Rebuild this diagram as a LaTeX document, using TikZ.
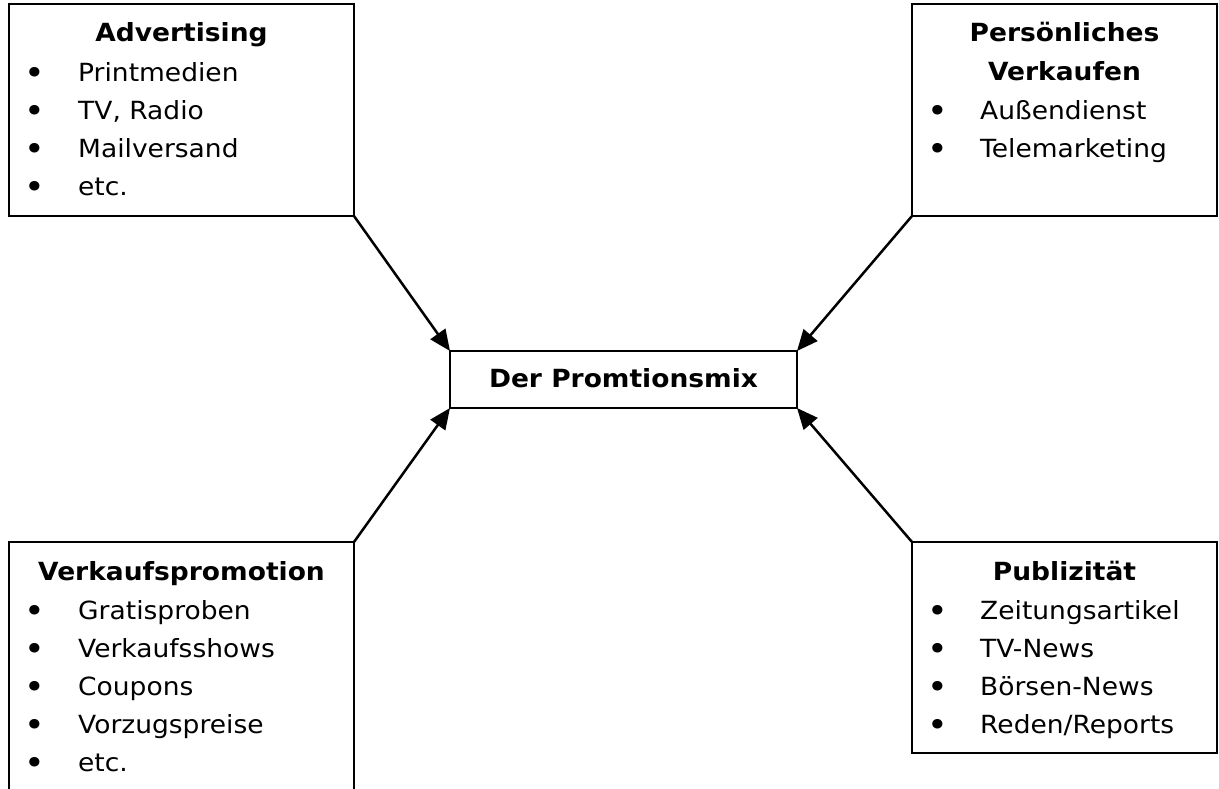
\documentclass[tikz,border=0pt]{standalone}
\usepackage{fontspec}
\setmainfont{DejaVu Sans}[FakeStretch=1.06]
\usetikzlibrary{arrows.meta}
\begin{document}
\begin{tikzpicture}[x=1pt,y=-1pt,
  frame/.style={draw, line width=2.5pt, outer sep=0pt, inner sep=0pt, anchor=north west},
  head/.style={font=\fontsize{25}{30}\selectfont\bfseries, anchor=base, inner sep=0pt},
  item/.style={font=\fontsize{25}{30}\selectfont, anchor=base west, inner sep=0pt},
  dot/.style={font=\fontsize{33}{36}\selectfont, anchor=base, inner sep=0pt, yshift=-3pt},
  arr/.style={line width=2.5pt, -{Triangle[length=21pt,width=18pt]}}]
\clip (0,0) rectangle (1219,789);
\fill[white] (0,0) rectangle (1219,789);

% boxes
\node[frame, minimum width=345pt, minimum height=212pt] (adv) at (9,4) {};
\node[frame, minimum width=305pt, minimum height=212pt] (pers) at (912,4) {};
\node[frame, minimum width=347pt, minimum height=57pt] (mix) at (450,351) {};
\node[frame, minimum width=345pt, minimum height=290pt] (vkp) at (9,542) {};
\node[frame, minimum width=305pt, minimum height=211pt] (pub) at (912,542) {};

% Advertising
\node[head] (adv-h) at (181.5,42) {Advertising};
\foreach \y/\t [count=\i] in {82/Printmedien, 120/{TV, Radio}, 158/Mailversand, 196/etc.}{
  \node[dot] (adv-b\i) at (35,\y) {•};
  \node[item] (adv-i\i) at (78,\y) {\t};
}

% Persönliches Verkaufen
\node[head] (pers-h1) at (1064.5,42) {Persönliches};
\node[head] (pers-h2) at (1064.5,81) {Verkaufen};
\foreach \y/\t [count=\i] in {120/Außendienst, 158/Telemarketing}{
  \node[dot] (pers-b\i) at (938,\y) {•};
  \node[item] (pers-i\i) at (980,\y) {\t};
}

% centre
\node[head] (mix-h) at (623.5,387) {Der Promtionsmix};

% Verkaufspromotion
\node[head] (vkp-h) at (181.5,580) {Verkaufspromotion};
\foreach \y/\t [count=\i] in {619/Gratisproben, 657/Verkaufsshows, 695/Coupons, 733/Vorzugspreise, 771/etc.}{
  \node[dot] (vkp-b\i) at (35,\y) {•};
  \node[item] (vkp-i\i) at (78,\y) {\t};
}

% Publizität
\node[head] (pub-h) at (1064.5,580) {Publizität};
\foreach \y/\t [count=\i] in {619/Zeitungsartikel, 657/TV-News, 695/Börsen-News, 733/{Reden/Reports}}{
  \node[dot] (pub-b\i) at (938,\y) {•};
  \node[item] (pub-i\i) at (980,\y) {\t};
}

% connectors
\draw[arr] (adv.south east) -- (mix.north west);
\draw[arr] (pers.south west) -- (mix.north east);
\draw[arr] (vkp.north east) -- (mix.south west);
\draw[arr] (pub.north west) -- (mix.south east);
\end{tikzpicture}
\end{document}
